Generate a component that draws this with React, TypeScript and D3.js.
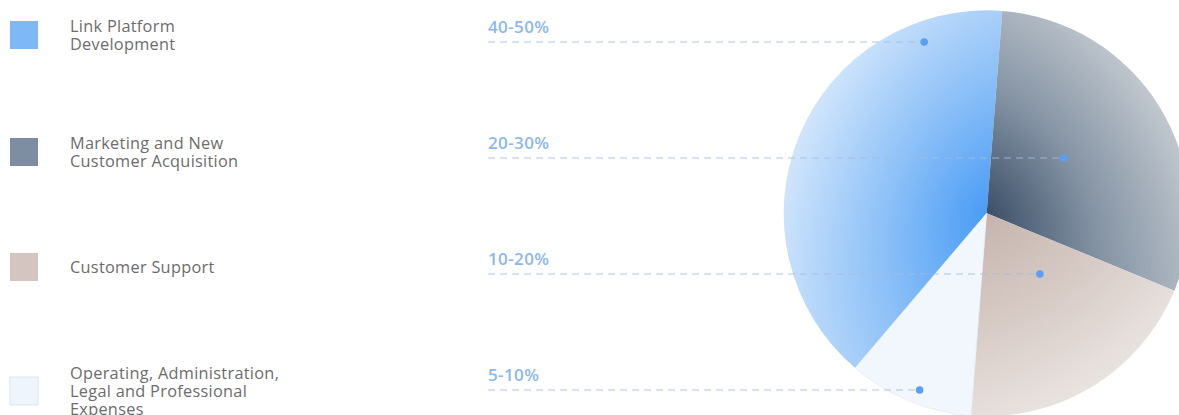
import React from "react";
import * as d3 from "d3";

const categories = [
  "Link Platform Development",
  "Marketing and New Customer Acquisition",
  "Customer Support",
  "Operating, Administration, Legal and Professional Expenses",
];
const legendLines = [
  ["Link Platform", "Development"],
  ["Marketing and New", "Customer Acquisition"],
  ["Customer Support"],
  ["Operating, Administration,", "Legal and Professional", "Expenses"],
];
const values = [40, 30, 20, 10];
const rangeLabels = ["40-50%", "20-30%", "10-20%", "5-10%"];
const swatchColors = ["#7fb8f7", "#7e8ea2", "#d5c5c1", "#eff5fd"];
const gradientStops = [
  [["0", "#4a9cf5"], ["0.45", "#8cc0f7"], ["1", "#d8e9fc"]],
  [["0", "#3c4f67"], ["0.45", "#8392a3"], ["1", "#c6ccd2"]],
  [["0", "#c6b4ad"], ["0.5", "#d7cbc6"], ["1", "#ebe6e3"]],
  [["0", "#f1f7fd"], ["1", "#f1f7fd"]],
];

const W = 1179;
const H = 415;
const CX = 986.7;
const CY = 213.3;
const R = 203;
const START = (220.4 * Math.PI) / 180;

export default function App() {
  const pie = d3
    .pie<number>()
    .sort(null)
    .startAngle(START)
    .endAngle(START + 2 * Math.PI)(values);
  const arc = d3.arc<d3.PieArcDatum<number>>().innerRadius(0).outerRadius(R);

  const rowY = d3.scalePoint<string>().domain(categories).range([42, 390]);

  const lineH = 18;
  const gap = 81;
  let top = 17;
  const legendCenters: number[] = [];
  legendLines.forEach((lines) => {
    const h = Math.max(32, lines.length * lineH);
    legendCenters.push(top + h / 2);
    top += h + gap;
  });

  const norm = (a: number) => {
    let v = a;
    while (v < START) v += 2 * Math.PI;
    while (v >= START + 2 * Math.PI) v -= 2 * Math.PI;
    return v;
  };

  const dotX = (i: number, y: number) => {
    const s = pie[i];
    const dy = y - CY;
    let minX = Infinity;
    let maxX = -Infinity;
    for (let x = CX - R; x <= CX + R; x += 0.25) {
      const dx = x - CX;
      if (dx * dx + dy * dy > R * R) continue;
      const a = norm(Math.atan2(dx, -dy));
      if (a >= s.startAngle && a <= s.endAngle) {
        minX = Math.min(minX, x);
        maxX = Math.max(maxX, x);
      }
    }
    return minX + 0.38 * (maxX - minX);
  };

  return (
    <svg
      width={W}
      height={H}
      style={{ position: "absolute", left: 0, top: 0, display: "block" }}
    >
      <defs>
        {pie.map((s, i) => {
          const mid = (s.startAngle + s.endAngle) / 2;
          const ux = Math.sin(mid);
          const uy = -Math.cos(mid);
          const d = 1.1 * R;
          return (
            <radialGradient
              key={i}
              id={`g${i}`}
              gradientUnits="userSpaceOnUse"
              fx={0}
              fy={0}
              cx={-d * ux}
              cy={-d * uy}
              r={2.15 * R}
            >
              {gradientStops[i].map(([o, c], k) => (
                <stop key={k} offset={o} stopColor={c} />
              ))}
            </radialGradient>
          );
        })}
      </defs>

      {legendLines.map((lines, i) => {
        const c = legendCenters[i];
        return (
          <g key={i}>
            <rect
              x={10}
              y={c - 14}
              width={28}
              height={28}
              fill={swatchColors[i]}
              stroke={i === 3 ? "#d9e3ee" : "none"}
              strokeWidth={1}
            />
            {lines.map((t, k) => (
              <text
                key={k}
                x={70}
                y={c - (lines.length * lineH) / 2 + lineH / 2 + 5.5 + k * lineH}
                fontFamily="'Open Sans', sans-serif"
                fontSize={16.3}
                letterSpacing={0.3}
                fill="#6c6c6c"
              >
                {t}
              </text>
            ))}
          </g>
        );
      })}

      <g transform={`translate(${CX},${CY})`}>
        {pie.map((s, i) => (
          <path
            key={i}
            d={arc(s) || ""}
            fill={`url(#g${i})`}
            stroke={i === 3 ? "#dfe5ec" : "none"}
            strokeWidth={i === 3 ? 0.6 : 0}
          />
        ))}
      </g>

      {categories.map((cat, i) => {
        const y = rowY(cat) as number;
        const x = dotX(i, y);
        return (
          <g key={cat}>
            <text
              x={488}
              y={y - 9.5}
              fontFamily="'Open Sans', sans-serif"
              fontSize={17}
              fontWeight={600}
              letterSpacing={0.4}
              fill="#8ab8ee"
            >
              {rangeLabels[i]}
            </text>
            <line
              x1={488}
              x2={x}
              y1={y}
              y2={y}
              stroke="#a6bcdc"
              strokeOpacity={0.85}
              strokeWidth={1.2}
              strokeDasharray="7 5"
            />
            <circle cx={x} cy={y} r={3.8} fill="#5b9ff0" />
          </g>
        );
      })}
    </svg>
  );
}
